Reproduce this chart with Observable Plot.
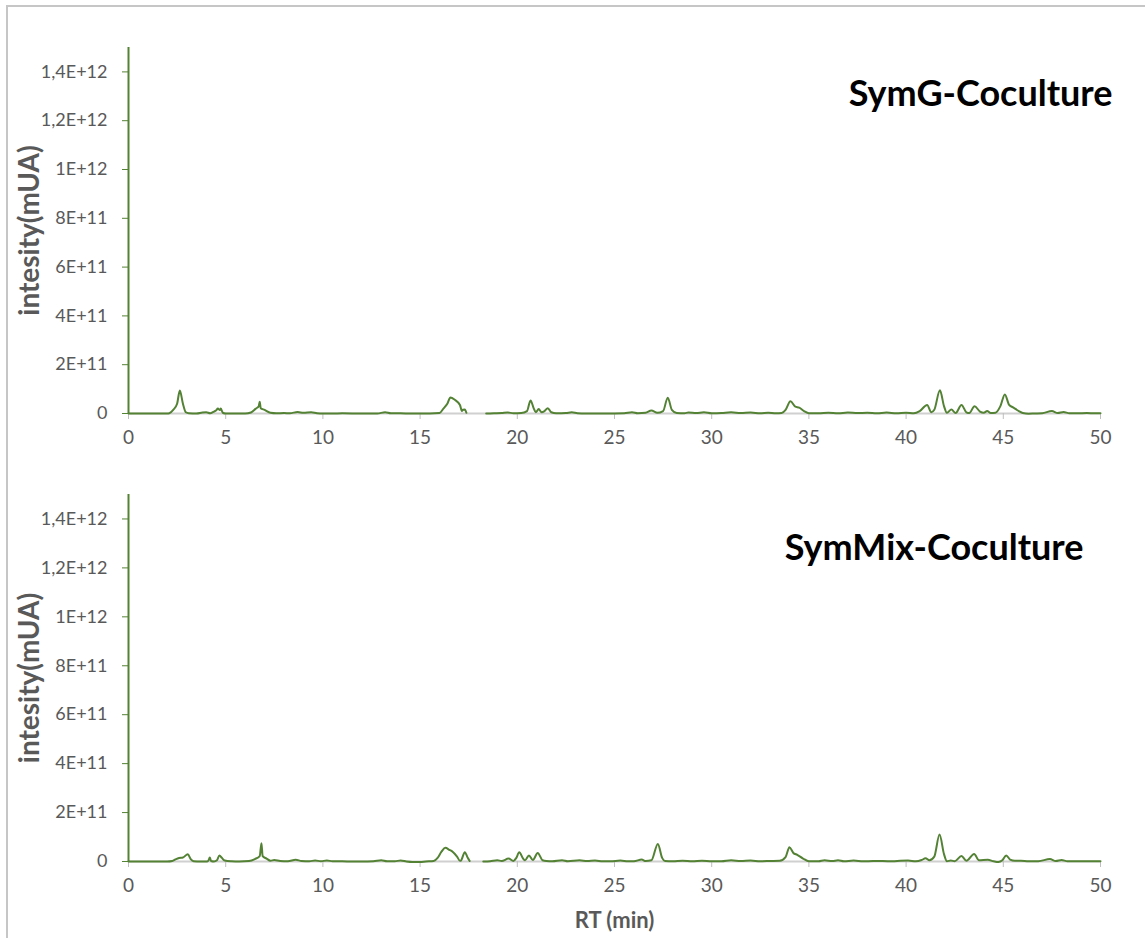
<!DOCTYPE html>
<html>
<head>
<meta charset="utf-8">
<script src="https://cdn.jsdelivr.net/npm/d3@7"></script>
<script src="https://cdn.jsdelivr.net/npm/@observablehq/plot@0.6"></script>
<style>
  html, body { margin: 0; padding: 0; background: #fff; }
  #wrap { position: relative; width: 1145px; height: 938px; overflow: hidden; font-family: Lato, sans-serif; }
  #frame { position: absolute; left: 6px; top: 5px; width: 1145px; height: 940px; border-left: 2px solid #c6c6c6; border-top: 2px solid #c6c6c6; box-sizing: border-box; }
  .panel { position: absolute; left: 0; }
</style>
</head>
<body>
<div id="wrap"><div id="frame"></div></div>
<script>
// ---- data (intensity in units of 1e9 mUA) ----
const titles = ["SymG-Coculture", "SymMix-Coculture"];
const yTitle = "intesity(mUA)";
const xTitle = "RT (min)";
const xTicks = [0, 5, 10, 15, 20, 25, 30, 35, 40, 45, 50];
const yTickValues = [0, 2e11, 4e11, 6e11, 8e11, 1e12, 1.2e12, 1.4e12];
const yTickLabels = ["0", "2E+11", "4E+11", "6E+11", "8E+11", "1E+12", "1,2E+12", "1,4E+12"];

const rtG = [0,0.5,1,1.5,2.0,2.1,2.3,2.5,2.64,2.8,2.95,3.1,3.5,3.8,4.0,4.2,4.4,4.5,4.6,4.7,4.75,4.85,5.0,5.5,6.0,6.3,6.55,6.7,6.75,6.8,7.0,7.3,7.6,8.0,8.3,8.7,9.0,9.4,9.7,10,10.5,11,12,12.8,13.2,13.5,14,14.5,15,15.5,16.0,16.2,16.4,16.56,16.8,17.05,17.15,17.2,17.3,17.38,17.4,18.4,18.8,19.2,19.5,19.8,20.2,20.5,20.68,20.85,20.95,21.1,21.25,21.4,21.57,21.75,22.0,22.5,22.8,23.1,23.5,24,24.5,25.5,25.9,26.2,26.6,26.9,27.2,27.5,27.74,27.95,28.2,28.6,28.8,29.2,29.6,30,30.5,31,31.5,32,32.5,32.9,33.3,33.6,33.8,34.05,34.3,34.5,34.75,35.0,35.5,36,36.5,37,37.5,38,38.5,39,39.5,40,40.4,40.7,41.08,41.3,41.45,41.74,41.95,42.1,42.33,42.55,42.85,43.1,43.25,43.52,43.8,44.0,44.17,44.35,44.6,44.85,45.08,45.3,45.5,45.8,46.0,46.3,46.6,47.0,47.5,47.8,48.1,48.4,48.8,49.3,49.7,50];
const intG = [0,0,0,0,0,1,15,40,94,40,5,1,0,4,5,1,8,12,20,14,20,3,0,0,0,4,20,30,48,22,15,3,1,2,1,6,3,5,1,0,0,1,0,0,5,1,1,0,0,0,2,20,40,66,55,35,10,15,16,3,null,0,1,2,4,1,2,10,53,20,5,18,5,10,22,5,1,2,5,1,0,0,0,1,5,1,3,12,3,10,65,15,2,1,4,2,5,1,2,5,2,4,1,3,1,2,15,50,28,24,10,1,1,3,1,4,2,3,1,4,1,3,1,10,35,5,15,95,30,3,16,2,35,5,2,30,8,3,10,2,3,30,78,35,25,10,2,-1,0,1,10,2,6,1,1,2,1,1];

const rtMix = [0,0.5,1,1.5,2.0,2.25,2.45,2.6,2.8,3.05,3.2,3.35,3.7,4.05,4.12,4.18,4.25,4.4,4.55,4.68,4.8,4.95,5.3,5.7,6.2,6.5,6.75,6.84,6.9,7.1,7.3,7.5,7.8,8.2,8.6,8.9,9.3,9.6,9.9,10.2,10.5,11,11.5,12,12.6,13.0,13.3,13.7,14.0,14.3,14.6,15.0,15.3,15.7,15.9,16.1,16.3,16.5,16.7,16.9,17.05,17.1,17.3,17.45,17.55,17.6,18.25,18.6,18.97,19.2,19.55,19.8,19.95,20.1,20.3,20.4,20.6,20.8,21.05,21.3,21.5,21.8,22.3,22.6,23.2,23.6,24.0,24.4,24.8,25.3,25.7,26.0,26.4,26.6,26.9,27.23,27.45,27.6,28.0,28.5,29.0,29.5,30,30.5,31,31.5,32,32.5,33,33.5,33.8,34.0,34.2,34.4,34.7,35.0,35.5,35.8,36.2,36.5,36.8,37.3,37.8,38.3,38.8,39.3,39.7,40.1,40.5,40.8,41.0,41.2,41.45,41.72,41.95,42.1,42.3,42.5,42.85,43.1,43.5,43.75,44.2,44.5,44.75,44.95,45.15,45.35,45.6,45.9,46.3,46.8,47.4,47.7,48.0,48.3,48.8,49.3,50];
const intMix = [0,0,0,0,0,2,10,14,16,30,10,1,0,0,5,16,2,0,5,25,15,4,1,0,2,10,22,75,22,12,3,6,2,1,7,2,1,4,1,4,1,1,0,0,1,5,1,1,4,0,-2,-2,0,2,15,40,56,48,38,20,3,4,38,15,2,null,0,1,5,2,12,2,15,38,12,5,25,6,35,5,2,1,5,1,5,2,4,1,1,4,1,1,8,2,5,72,15,2,1,3,1,3,1,1,5,2,4,1,2,3,18,58,35,27,12,1,1,5,2,5,1,4,1,2,2,1,3,4,1,6,13,5,20,110,30,1,4,1,22,3,31,5,7,1,-2,5,25,8,3,3,1,1,10,2,6,1,1,1,1];

const green = "#548235";
const gray = "#595959";

function series(rt, vals) {
  return rt.map((t, i) => ({ rt: t, v: vals[i] == null ? null : vals[i] * 1e9 }));
}

function panel(data, title, opts) {
  const marks = [
    Plot.ruleY([0], { stroke: "#d0d0d0", strokeWidth: 2 }),
    Plot.axisX({ ticks: xTicks, tickSize: 6, tickPadding: 11, stroke: "#bfbfbf", color: gray, fontSize: 19, label: null, tickFormat: d => String(d) }),
    Plot.axisY({ ticks: yTickValues, tickFormat: d => yTickLabels[yTickValues.indexOf(d)], tickSize: 6, tickPadding: 15, stroke: green, color: gray, fontSize: 18, label: null }),
    Plot.ruleX([0], { y1: 0, y2: 1.5e12, stroke: green, strokeWidth: 2 }),
    Plot.line(data, { x: "rt", y: "v", stroke: green, strokeWidth: 2, curve: "monotone-x" }),
    Plot.text([yTitle], { frameAnchor: "left", dx: -98, rotate: -90, fontSize: 28, fontWeight: "bold", fill: gray, textAnchor: "middle" }),
    Plot.text([title], { frameAnchor: "top-right", textAnchor: "end", lineAnchor: "middle", dx: opts.tdx, dy: opts.tdy, fontSize: 36, fontWeight: "bold", fill: "#000" })
  ];
  if (opts.xTitle) {
    marks.push(Plot.text([xTitle], { frameAnchor: "bottom", lineAnchor: "middle", dy: opts.xdy, fontSize: 22, fontWeight: "bold", fill: gray }));
  }
  return Plot.plot({
    width: 1145,
    height: opts.height,
    marginLeft: 128,
    marginRight: 45,
    marginTop: opts.mt,
    marginBottom: opts.mb,
    style: { fontFamily: "Lato, sans-serif", background: "transparent", overflow: "visible" },
    x: { domain: [0, 50] },
    y: { domain: [0, 1.5e12] },
    marks
  });
}

const wrapEl = document.getElementById("wrap");
const topPanel = panel(series(rtG, intG), titles[0], { height: 448, mt: 47, mb: 35, tdx: 12, tdy: 47 });
topPanel.classList.add("panel"); topPanel.style.top = "0px";
wrapEl.appendChild(topPanel);
const botPanel = panel(series(rtMix, intMix), titles[1], { height: 490, mt: 46, mb: 77, tdx: -17, tdy: 54, xTitle: true, xdy: 59 });
botPanel.classList.add("panel"); botPanel.style.top = "448px";
wrapEl.appendChild(botPanel);
</script>
</body>
</html>
